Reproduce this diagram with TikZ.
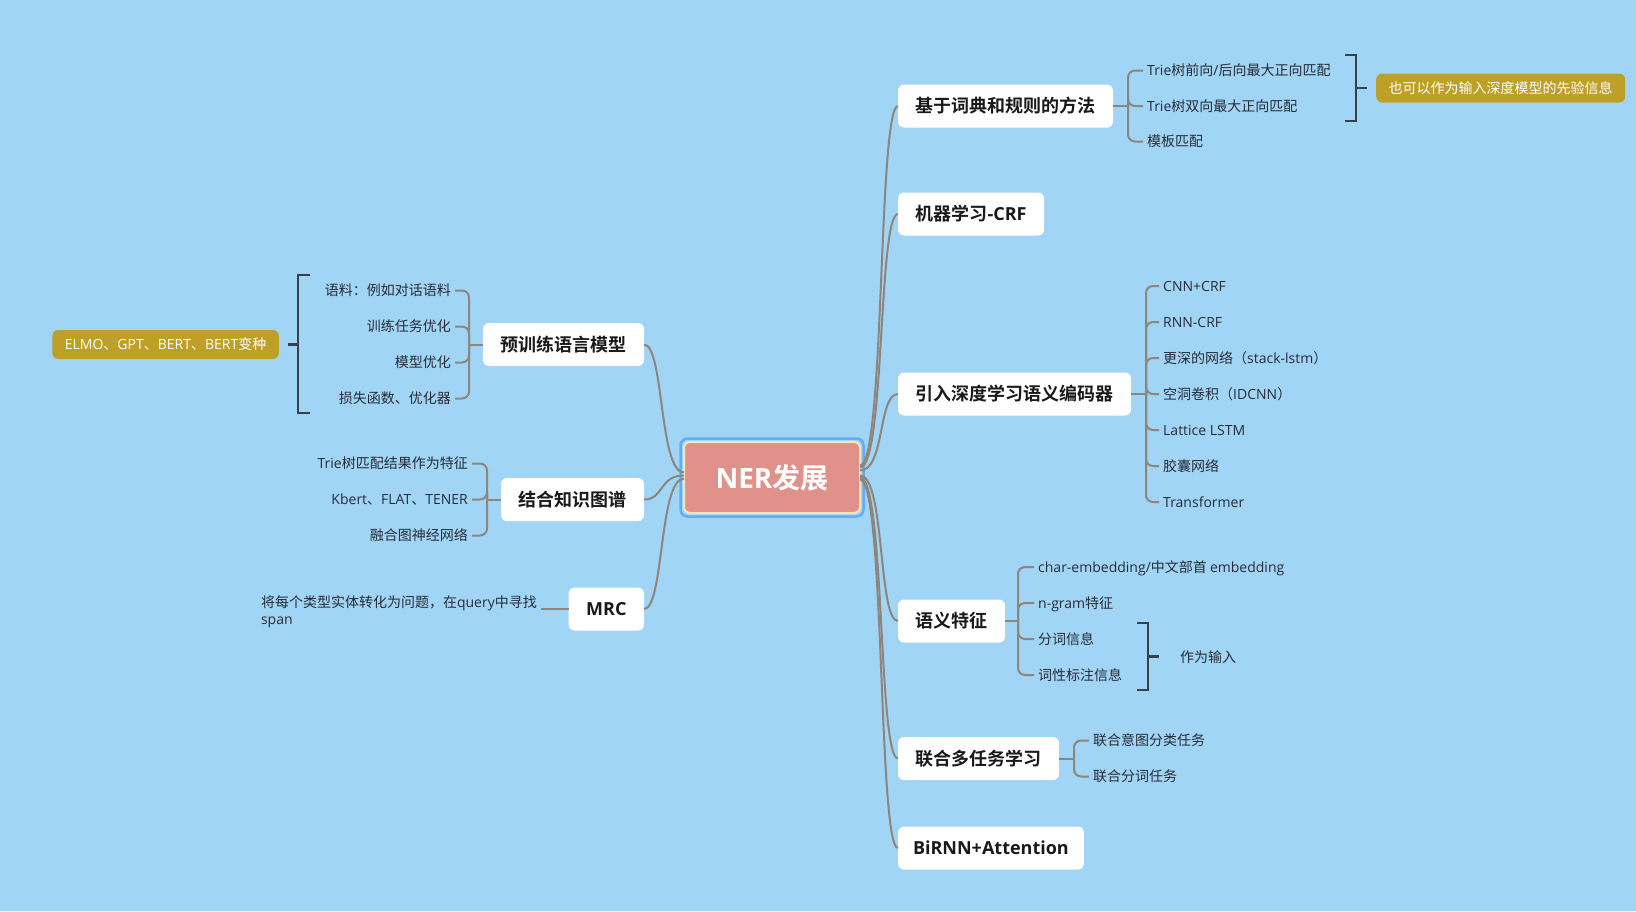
\documentclass[tikz,border=0pt]{standalone}
\usepackage{fontspec}
\setmainfont{Open Sans}
\newfontfamily\latin{Open Sans}
\newfontfamily\cjk{Noto Sans CJK SC}[BoldFont={Noto Sans CJK SC Bold}]
\usetikzlibrary{calc}

% Latin / CJK font switching
\XeTeXinterchartokenstate=1
\newXeTeXintercharclass\cjkclass
\newcount\cjkcode
\def\setcjkrange#1#2{\cjkcode=#1 \loop\XeTeXcharclass\cjkcode=\cjkclass \ifnum\cjkcode<#2 \advance\cjkcode by 1 \repeat}
\setcjkrange{"3000}{"303F}
\setcjkrange{"4E00}{"9FFF}
\setcjkrange{"FF00}{"FFEF}
\XeTeXinterchartoks 0 \cjkclass = {\cjk}
\XeTeXinterchartoks 4095 \cjkclass = {\cjk}
\XeTeXinterchartoks \cjkclass 0 = {\latin}
\XeTeXinterchartoks 4095 0 = {\latin}

\definecolor{bgblue}{RGB}{161,213,245}
\definecolor{rootred}{RGB}{224,145,138}
\definecolor{rootrim}{RGB}{246,230,190}
\definecolor{rootframe}{RGB}{100,172,245}
\definecolor{goldtag}{RGB}{190,160,38}
\definecolor{linegray}{RGB}{142,133,124}
\definecolor{bracegray}{RGB}{58,63,76}
\definecolor{inkdark}{RGB}{40,44,54}

\begin{document}
\begin{tikzpicture}[x=1pt, y=-1pt,
  root/.style={draw=rootrim, line width=2pt, fill=rootred, rounded corners=6pt,
    minimum width=176pt, minimum height=71pt, outer sep=0pt, text=white,
    font=\fontsize{28}{32}\selectfont\bfseries},
  topic/.style={fill=white, rounded corners=6pt, minimum height=43pt, inner xsep=17.5pt,
    outer sep=0pt, text=black!90, font=\fontsize{18}{22}\selectfont\bfseries,
    text height=16.2pt, text depth=2.6pt},
  note/.style={inner xsep=4pt, inner ysep=1pt, text=inkdark, align=left,
    font=\fontsize{14}{17.5}\selectfont},
  leaf/.style={inner xsep=4pt, inner ysep=1pt, text=inkdark,
    font=\fontsize{14}{17.5}\selectfont, text height=12.6pt, text depth=2pt},
  tag/.style={fill=goldtag, rounded corners=6pt, minimum height=29pt, inner xsep=12.5pt,
    text=white, font=\fontsize{14}{17.5}\selectfont, text height=12.6pt, text depth=2pt},
  branch/.style={draw=linegray, line width=2pt},
  twig/.style={draw=linegray, line width=2pt, rounded corners=7pt},
  brace/.style={draw=bracegray, line width=2.5pt}]

  % fond
  \fill[bgblue] (0,0) rectangle (1636,911);

  % centre
  \node[root] (ner) at (772,477.5) {NER发展};
  \draw[rootframe, line width=2.5pt, rounded corners=7pt]
    ($(ner.north west)+(-3.5,-3.5)$) rectangle ($(ner.south east)+(3.5,3.5)$);

  % branches droites
  \node[topic, anchor=west] (dict) at (898,106) {基于词典和规则的方法};
  \node[topic, anchor=west] (crf) at (898,214) {机器学习-CRF};
  \node[topic, anchor=west] (enc) at (898,394) {引入深度学习语义编码器};
  \node[topic, anchor=west] (feat) at (898,621) {语义特征};
  \node[topic, anchor=west] (multi) at (898,758.5) {联合多任务学习};
  \node[topic, anchor=west, inner xsep=15pt] (att) at (898,848) {BiRNN+Attention};

  % branches gauches
  \node[topic, anchor=east] (pre) at (644,344.5) {预训练语言模型};
  \node[topic, anchor=east] (kg) at (644,499.5) {结合知识图谱};
  \node[topic, anchor=east] (mrc) at (644,609) {MRC};

  % liaisons courbes
  \foreach \n/\dy in {dict/-12, crf/-10, enc/-7, feat/-2, multi/0, att/2}
    \draw[branch] ($(ner.east)+(0,\dy)$) .. controls +(25,0) and +(-20,0) .. (\n.west);
  \foreach \n/\dy in {pre/-5, kg/-2, mrc/1}
    \draw[branch] ($(ner.west)+(0,\dy)$) .. controls +(-25,0) and +(20,0) .. (\n.east);

  % dictionnaire et regles
  \coordinate (dictsp) at ($(dict.east)+(15,0)$);
  \draw[twig] (dict.east) -- (dictsp);
  \foreach \t [count=\i] in {{Trie树前向/后向最大正向匹配}, {Trie树双向最大正向匹配}, {模板匹配}} {
    \node[leaf, anchor=west] (dict\i) at (1143, 35.5*\i+35) {\t};
    \draw[twig] (dictsp) |- (dict\i.west);
  }
  \node[tag, anchor=west] (prior) at (1376,88) {也可以作为输入深度模型的先验信息};
  \draw[brace] (1345,55) -- (1356,55) -- (1356,121) -- (1345,121);
  \coordinate (brprior) at (1356,88);
  \draw[brace] (brprior) -- ++(11,0);

  % encodeurs
  \coordinate (encsp) at ($(enc.east)+(15,0)$);
  \draw[twig] (enc.east) -- (encsp);
  \foreach \t [count=\i] in {CNN+CRF, RNN-CRF, 更深的网络（stack-lstm）, 空洞卷积（IDCNN）, Lattice LSTM, 胶囊网络, Transformer} {
    \node[leaf, anchor=west] (enc\i) at (1159, 36*\i+250) {\t};
    \draw[twig] (encsp) |- (enc\i.west);
  }

  % traits semantiques
  \coordinate (featsp) at ($(feat.east)+(13,0)$);
  \draw[twig] (feat.east) -- (featsp);
  \foreach \t [count=\i] in {{char-embedding/中文部首 embedding}, n-gram特征, 分词信息, 词性标注信息} {
    \node[leaf, anchor=west] (feat\i) at (1034, 36*\i+531) {\t};
    \draw[twig] (featsp) |- (feat\i.west);
  }
  \node[leaf, anchor=west] (asin) at (1176,657) {作为输入};
  \draw[brace] (1137,623) -- (1148,623) -- (1148,690) -- (1137,690);
  \coordinate (brinput) at (1148,656.5);
  \draw[brace] (brinput) -- ++(11,0);

  % multi-taches
  \coordinate (multisp) at ($(multi.east)+(15,0)$);
  \draw[twig] (multi.east) -- (multisp);
  \foreach \t [count=\i] in {联合意图分类任务, 联合分词任务} {
    \node[leaf, anchor=west] (multi\i) at (1089, 36*\i+704.5) {\t};
    \draw[twig] (multisp) |- (multi\i.west);
  }

  % pre-entrainement
  \coordinate (presp) at ($(pre.west)+(-14,0)$);
  \draw[twig] (pre.west) -- (presp);
  \foreach \t [count=\i] in {语料：例如对话语料, 训练任务优化, 模型优化, 损失函数、优化器} {
    \node[leaf, anchor=east] (pre\i) at (455, 36*\i+254.5) {\t};
    \draw[twig] (presp) |- (pre\i.east);
  }
  \node[tag, anchor=east] (plm) at (279,344.5) {ELMO、GPT、BERT、BERT变种};
  \draw[brace] (310,275) -- (298,275) -- (298,413) -- (310,413);
  \coordinate (brplm) at (298,344.5);
  \draw[brace] (brplm) -- ++(-10,0);

  % graphe de connaissances
  \coordinate (kgsp) at ($(kg.west)+(-14,0)$);
  \draw[twig] (kg.west) -- (kgsp);
  \foreach \t [count=\i] in {Trie树匹配结果作为特征, Kbert、FLAT、TENER, 融合图神经网络} {
    \node[leaf, anchor=east] (kg\i) at (472, 36*\i+427.5) {\t};
    \draw[twig] (kgsp) |- (kg\i.east);
  }

  % MRC
  \node[note, anchor=east] (query) at (541,611.5) {将每个类型实体转化为问题，在query中寻找\\span};
  \draw[twig] (mrc.west) -- (mrc.west -| query.east);

\end{tikzpicture}
\end{document}
